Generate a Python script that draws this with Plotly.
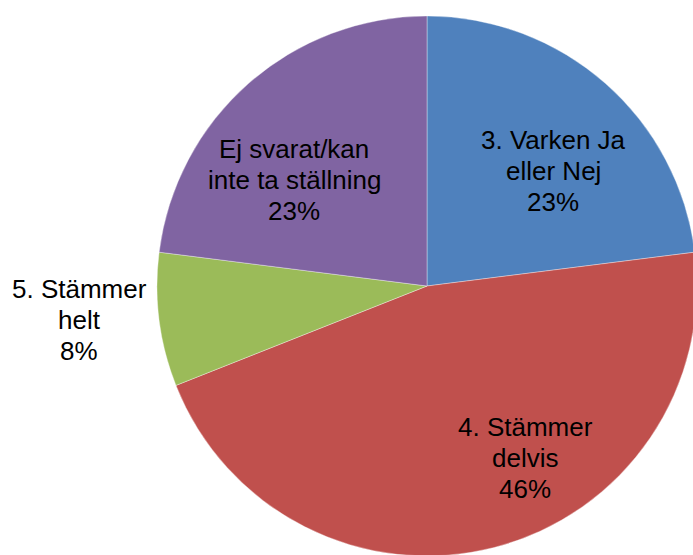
import plotly.graph_objects as go

labels = ["3. Varken Ja eller Nej", "4. Stämmer delvis", "5. Stämmer helt", "Ej svarat/kan inte ta ställning"]
label_lines = [["3. Varken Ja", "eller Nej"], ["4. Stämmer", "delvis"], ["5. Stämmer", "helt"], ["Ej svarat/kan", "inte ta ställning"]]
values = [23, 46, 8, 23]
colors = ["#4F81BD", "#C0504D", "#9BBB59", "#8064A2"]

W, H = 720, 580
cx, cy, R = 427, 286, 270

fig = go.Figure(go.Pie(
    labels=labels, values=values, sort=False, direction="clockwise", rotation=0,
    marker=dict(colors=colors, line=dict(color="rgba(255,255,255,0.45)", width=0.8)),
    textinfo="none", hoverinfo="label+percent", showlegend=False,
    domain=dict(x=[(cx - R) / W, (cx + R) / W], y=[(H - (cy + R)) / H, (H - (cy - R)) / H]),
))

# label centres (pixel) for the middle line of each label
label_pos = [(553, 171), (525, 458), (79, 320), (294, 180)]
pitch = 31
total = sum(values)
annotations = []
for lines, v, (px, py) in zip(label_lines, values, label_pos):
    all_lines = lines + [f"{round(100 * v / total)}%"]
    for i, t in enumerate(all_lines):
        yy = py + (i - 1) * pitch
        annotations.append(dict(
            x=px / W, y=1 - yy / H, xref="paper", yref="paper", text=t, showarrow=False,
            xanchor="center", yanchor="middle",
            font=dict(family="Liberation Sans, Arial, sans-serif", size=26, color="#000000"),
        ))

fig.update_layout(
    width=W, height=H, margin=dict(l=0, r=0, t=0, b=0),
    paper_bgcolor="white", plot_bgcolor="white", annotations=annotations,
)

fig.write_html("out.html", config={"displayModeBar": False},
               post_script="document.body.style.margin='0';document.body.style.overflow='hidden';")
